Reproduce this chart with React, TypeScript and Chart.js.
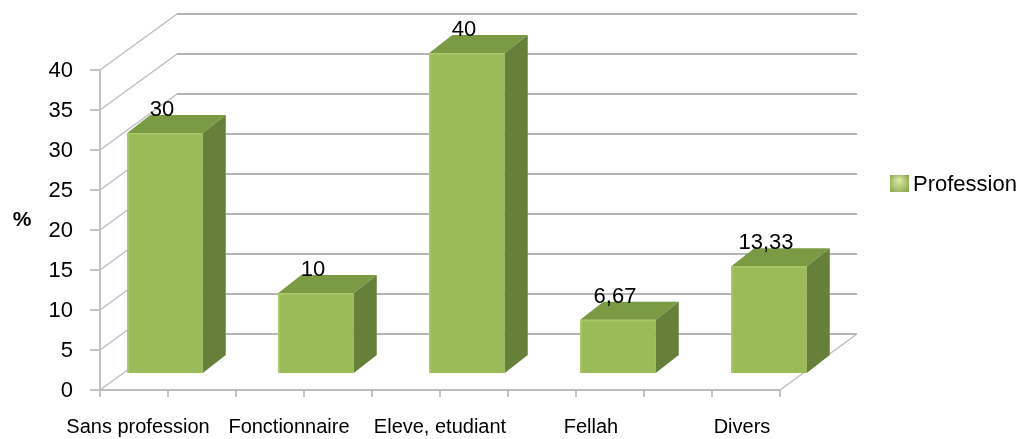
import React, { useEffect, useRef } from "react";
import { Chart, registerables } from "chart.js";

Chart.register(...registerables);

// ---- data ----
const categories = ["Sans profession", "Fonctionnaire", "Eleve, etudiant", "Fellah", "Divers"];
const values = [30, 10, 40, 6.67, 13.33];
const valueLabels = ["30", "10", "40", "6,67", "13,33"];
const yTicks = [0, 5, 10, 15, 20, 25, 30, 35, 40];
const seriesName = "Profession";
const yTitle = "%";

// ---- styling / geometry ----
const FONT = '"Liberation Sans", Arial, sans-serif';
const FRONT_COLOR = "#9bbb59";
const TOP_COLOR = "#7a9a44";
const SIDE_COLOR = "#66803a";
const GRID_COLOR = "#b5b5b5";
const BAR_DX = 23;
const BAR_DY = -18;
const WALL_DX = 77;
const WALL_DY = -56;
const FRONT_DY = 17;
const FRONT_LEFT_INSET = 10.5;
const FRONT_RIGHT_INSET = 64.5;
const LABEL_SHIFT = -27;

const threeD = {
  id: "threeD",
  beforeDatasetsDraw(chart: any) {
    const { ctx, chartArea } = chart;
    const ys = chart.scales.y;
    const fl = chartArea.left + FRONT_LEFT_INSET;
    const fr = chartArea.right - FRONT_RIGHT_INSET;
    const bl = fl + WALL_DX;
    const br = fr + WALL_DX;
    const yf = (v: number) => ys.getPixelForValue(v) + FRONT_DY;
    ctx.save();
    ctx.lineCap = "butt";
    // back wall gridlines and side wall lines
    yTicks.forEach((v) => {
      const f = yf(v);
      const b = f + WALL_DY;
      ctx.strokeStyle = GRID_COLOR;
      ctx.lineWidth = 2;
      ctx.beginPath();
      ctx.moveTo(bl, b);
      ctx.lineTo(br, b);
      ctx.stroke();
      ctx.lineWidth = 1.5;
      ctx.strokeStyle = "#bdbdbd";
      ctx.beginPath();
      ctx.moveTo(fl, f);
      ctx.lineTo(bl, b);
      ctx.stroke();
      // y tick
      ctx.lineWidth = 1.5;
      ctx.strokeStyle = "#b0b0b0";
      ctx.beginPath();
      ctx.moveTo(fl - 10, f);
      ctx.lineTo(fl, f);
      ctx.stroke();
    });
    const y0 = yf(0);
    const yTop = yf(yTicks[yTicks.length - 1]);
    // floor
    ctx.strokeStyle = "#bdbdbd";
    ctx.lineWidth = 2;
    ctx.beginPath();
    ctx.moveTo(fl, y0);
    ctx.lineTo(fr, y0);
    ctx.stroke();
    ctx.lineWidth = 1.5;
    ctx.beginPath();
    ctx.moveTo(fr, y0);
    ctx.lineTo(br, y0 + WALL_DY);
    ctx.stroke();
    // front axis
    ctx.lineWidth = 2;
    ctx.strokeStyle = "#c2c2c2";
    ctx.beginPath();
    ctx.moveTo(fl, yTop);
    ctx.lineTo(fl, y0);
    ctx.stroke();
    // x ticks
    const nT = categories.length * 2;
    ctx.lineWidth = 1.5;
    ctx.strokeStyle = "#b0b0b0";
    for (let i = 0; i <= nT; i++) {
      const x = fl + ((fr - fl) * i) / nT;
      ctx.beginPath();
      ctx.moveTo(x, y0);
      ctx.lineTo(x, y0 + 7);
      ctx.stroke();
    }
    // y tick labels
    ctx.fillStyle = "#000";
    ctx.font = `22px ${FONT}`;
    ctx.textAlign = "right";
    ctx.textBaseline = "middle";
    yTicks.forEach((v) => {
      ctx.fillText(String(v), fl - 27, yf(v) + 1);
    });
    // y title
    ctx.font = `bold 21px ${FONT}`;
    ctx.textAlign = "center";
    ctx.fillText(yTitle, 22, (yTop + y0) / 2 - 10);
    // category labels
    const meta = chart.getDatasetMeta(0);
    ctx.font = `20px ${FONT}`;
    ctx.textBaseline = "alphabetic";
    meta.data.forEach((el: any, i: number) => {
      ctx.fillText(categories[i], el.x + LABEL_SHIFT, y0 + 43);
    });
    // legend
    const lx = br + 33;
    const ly = (yTop + y0 + WALL_DY) / 2 - 18;
    const g = ctx.createRadialGradient(lx + 9, ly - 4, 1, lx + 9, ly, 13);
    g.addColorStop(0, "#d8e8a0");
    g.addColorStop(1, "#7f9f45");
    ctx.fillStyle = g;
    ctx.fillRect(lx, ly - 9, 19, 17);
    ctx.fillStyle = "#000";
    ctx.font = `22px ${FONT}`;
    ctx.textAlign = "left";
    ctx.textBaseline = "middle";
    ctx.fillText(seriesName, lx + 23, ly + 1);
    ctx.restore();
  },
  afterDatasetsDraw(chart: any) {
    const { ctx } = chart;
    const meta = chart.getDatasetMeta(0);
    ctx.save();
    meta.data.forEach((el: any, i: number) => {
      const { x, y, base, width } = el.getProps(["x", "y", "base", "width"], true);
      const l = x - width / 2;
      const r = x + width / 2;
      // top face
      ctx.fillStyle = TOP_COLOR;
      ctx.beginPath();
      ctx.moveTo(l, y);
      ctx.lineTo(r, y);
      ctx.lineTo(r + BAR_DX, y + BAR_DY);
      ctx.lineTo(l + BAR_DX, y + BAR_DY);
      ctx.closePath();
      ctx.fill();
      // side face
      ctx.fillStyle = SIDE_COLOR;
      ctx.beginPath();
      ctx.moveTo(r, y);
      ctx.lineTo(r + BAR_DX, y + BAR_DY);
      ctx.lineTo(r + BAR_DX, base + BAR_DY);
      ctx.lineTo(r, base);
      ctx.closePath();
      ctx.fill();
      // front highlight edge
      ctx.strokeStyle = "#a9c86c";
      ctx.lineWidth = 1.5;
      ctx.beginPath();
      ctx.moveTo(l + 0.75, base);
      ctx.lineTo(l + 0.75, y + 0.75);
      ctx.lineTo(r, y + 0.75);
      ctx.stroke();
      // value label
      ctx.fillStyle = "#000";
      ctx.font = `22px ${FONT}`;
      ctx.textAlign = "center";
      ctx.textBaseline = "alphabetic";
      ctx.fillText(valueLabels[i], x - 3, y + BAR_DY + 1);
    });
    ctx.restore();
  },
};

export default function App() {
  const ref = useRef<HTMLCanvasElement | null>(null);
  useEffect(() => {
    if (!ref.current) return;
    const chart = new Chart(ref.current, {
      type: "bar",
      data: {
        labels: categories,
        datasets: [
          {
            label: seriesName,
            data: values,
            backgroundColor: FRONT_COLOR,
            borderWidth: 0,
            categoryPercentage: 0.5,
            barPercentage: 1,
          },
        ],
      },
      options: {
        responsive: true,
        maintainAspectRatio: false,
        animation: false,
        layout: { padding: { left: 89.5, right: 178.5, top: 53, bottom: 66 } },
        plugins: { legend: { display: false }, tooltip: { enabled: false }, title: { display: false } },
        scales: {
          x: { display: false, offset: true },
          y: { display: false, min: 0, max: 40 },
        },
      },
      plugins: [threeD],
    });
    return () => chart.destroy();
  }, []);
  return (
    <div style={{ position: "fixed", left: 0, top: 0, width: 1023, height: 439, background: "#fff" }}>
      <canvas ref={ref} style={{ display: "block" }} />
    </div>
  );
}
